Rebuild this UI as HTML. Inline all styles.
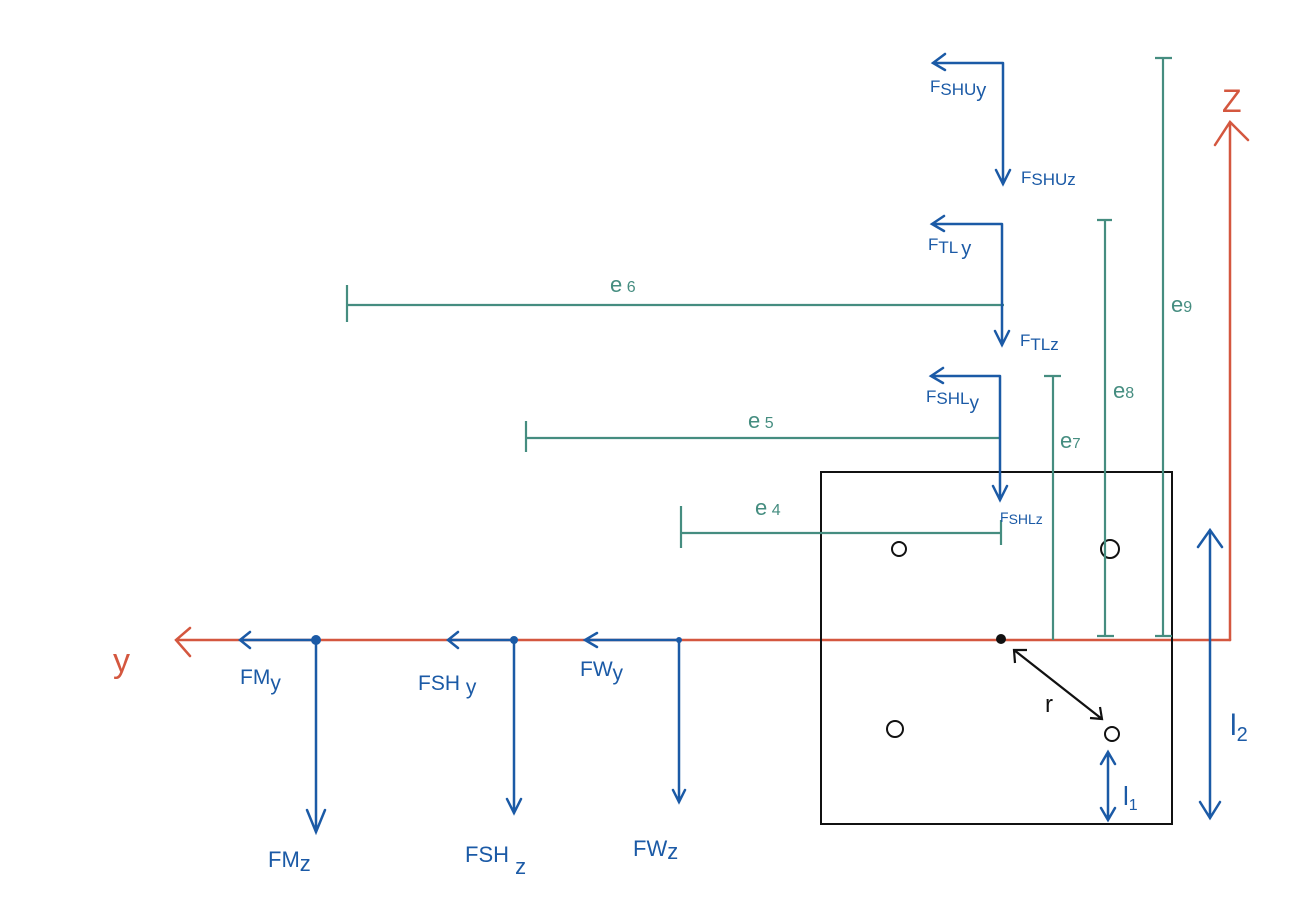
<!DOCTYPE html>
<html><head><meta charset="utf-8"><style>html,body{margin:0;padding:0;background:#fff}svg{display:block}</style></head>
<body>
<svg width="1307" height="918" viewBox="0 0 1307 918" xmlns="http://www.w3.org/2000/svg" font-family="Liberation Sans, sans-serif">
<rect width="1307" height="918" fill="#fff"/>
<!-- red axes -->
<g stroke="#d4573f" stroke-width="2.5" fill="none" stroke-linecap="round">
<path d="M1230 640 H176 M190 628 L176 640 L190 656"/>
<path d="M1230 640 V122 M1215 145 L1230 122 L1248 140"/>
</g>
<text x="113" y="672" fill="#d4573f" font-size="34">y</text>
<text x="1222" y="112" fill="#d4573f" font-size="32">Z</text>
<!-- box -->
<rect x="821" y="472" width="351" height="352" fill="none" stroke="#111" stroke-width="2"/>
<g fill="none" stroke="#111" stroke-width="2">
<circle cx="899" cy="549" r="7"/><circle cx="1110" cy="549" r="9"/>
<circle cx="895" cy="729" r="8"/><circle cx="1112" cy="734" r="7"/>
</g>
<circle cx="1001" cy="639" r="5" fill="#111"/>
<g stroke="#111" stroke-width="2.2" fill="none">
<path d="M1014 650 L1102 719 M1015 663 L1014 650 L1027 650 M1090 718 L1102 719 L1100 707"/>
</g>
<text x="1045" y="712" font-size="24" fill="#111">r</text>
<!-- teal dims -->
<g stroke="#458d80" stroke-width="2.2" fill="none">
<path d="M681 533 H1001 M681 506 V548 M1001 520 V545"/>
<path d="M526 438 H1001 M526 421 V452"/>
<path d="M347 305 H1004 M347 285 V322"/>
<path d="M1053 376 V640 M1044 376 H1061"/>
<path d="M1105 220 V636 M1097 220 H1112 M1097 636 H1114"/>
<path d="M1163 58 V636 M1155 58 H1172 M1155 636 H1172"/>
</g>
<g fill="#458d80" font-size="22">
<text x="755" y="515">e<tspan font-size="16"> 4</tspan></text>
<text x="748" y="428">e<tspan font-size="16"> 5</tspan></text>
<text x="610" y="292">e<tspan font-size="16"> 6</tspan></text>
<text x="1060" y="448">e<tspan font-size="15">7</tspan></text>
<text x="1113" y="398">e<tspan font-size="16">8</tspan></text>
<text x="1171" y="312">e<tspan font-size="16">9</tspan></text>
</g>
<!-- blue forces -->
<g stroke="#1b5aa6" stroke-width="2.5" fill="none" stroke-linecap="round">
<path d="M1003 63 H933 M945 54 L933 63 L945 70 M1003 63 V184 M996 170 L1003 184 L1010 170"/>
<path d="M1002 224 H932 M944 216 L932 224 L944 231 M1002 224 V345 M995 331 L1002 345 L1009 331"/>
<path d="M1000 376 H931 M943 368 L931 376 L943 383 M1000 376 V500 M993 486 L1000 500 L1007 486"/>
<path d="M316 640 H240 M250 632 L240 640 L250 648 M316 640 V832 M307 810 L316 832 L325 810"/>
<path d="M514 640 H448 M458 632 L448 640 L458 648 M514 640 V813 M507 799 L514 813 L521 799"/>
<path d="M679 640 H585 M597 633 L585 640 L597 647 M679 640 V802 M673 790 L679 802 L685 790"/>
<path d="M1108 752 V820 M1101 764 L1108 752 L1115 764 M1101 808 L1108 820 L1115 808"/>
<path d="M1210 530 V818 M1198 547 L1210 530 L1222 547 M1200 802 L1210 818 L1220 802"/>
</g>
<circle cx="316" cy="640" r="5" fill="#1b5aa6"/>
<circle cx="514" cy="640" r="4" fill="#1b5aa6"/>
<circle cx="679" cy="640" r="3" fill="#1b5aa6"/>
<g fill="#1b5aa6" font-size="20">
<text x="930" y="92" font-size="17">F<tspan dy="3">SHU</tspan><tspan font-size="20" dy="2">y</tspan></text>
<text x="1021" y="183" font-size="17">F<tspan dy="2">SHUz</tspan></text>
<text x="928" y="250" font-size="17">F<tspan dy="3">TL</tspan><tspan font-size="20" dx="3" dy="2">y</tspan></text>
<text x="1020" y="346" font-size="17">F<tspan dy="4">TLz</tspan></text>
<text x="926" y="402" font-size="17">F<tspan dy="2">SHL</tspan><tspan font-size="19" dy="5">y</tspan></text>
<text x="1000" y="522" font-size="14">F<tspan dy="2">SHLz</tspan></text>
<text x="240" y="684" font-size="21">FM<tspan dy="6">y</tspan></text>
<text x="418" y="690" font-size="21">FSH <tspan dy="4">y</tspan></text>
<text x="580" y="676" font-size="21">FW<tspan dy="4">y</tspan></text>
<text x="268" y="867" font-size="22">FM<tspan dy="4">z</tspan></text>
<text x="465" y="862" font-size="22">FSH <tspan dy="12">z</tspan></text>
<text x="633" y="856" font-size="22">FW<tspan dy="3">z</tspan></text>
<text x="1123" y="805" font-size="26">l<tspan font-size="16" dy="5">1</tspan></text>
<text x="1230" y="735" font-size="30">l<tspan font-size="20" dy="6">2</tspan></text>
</g>
</svg>
</body></html>
